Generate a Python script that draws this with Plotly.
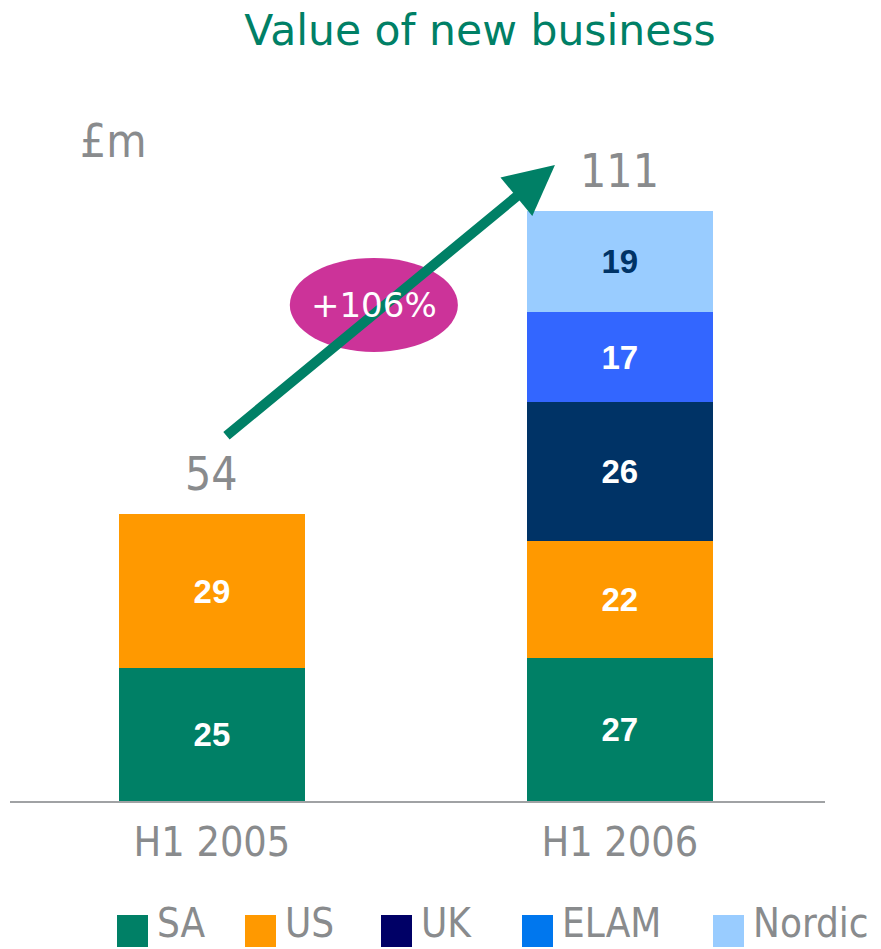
import plotly.graph_objects as go

categories = ["H1 2005", "H1 2006"]
series_names = ["SA", "US", "UK", "ELAM", "Nordic"]
sa = [25, 27]
us = [29, 22]
uk = [0, 26]
elam = [0, 17]
nordic = [0, 19]
series_values = [sa, us, uk, elam, nordic]
bar_colors = ["#008066", "#FF9900", "#003366", "#3366FF", "#99CCFF"]
legend_colors = ["#008066", "#FF9900", "#000066", "#0077EE", "#99CCFF"]
label_colors = ["white", "white", "white", "white", "#003366"]
growth_label = "+106%"
unit_label = "£m"
title_text = "Value of new business"

GRAY = "#898B8D"
NARROW = "DejaVu Sans Condensed, Liberation Sans Narrow, sans-serif"
TAHOMA = "DejaVu Sans, Tahoma, Verdana, sans-serif"

W, H = 881, 949
ML, MR, MT, MB = 10, 56, 57, 148
PW, PH = W - ML - MR, H - MT - MB


def px(x):
    return (x - ML) / PW


def py(y):
    return (H - MB - y) / PH


fig = go.Figure()
xs = [0, 1]
for name, vals, col, lc in zip(series_names, series_values, bar_colors, label_colors):
    fig.add_trace(go.Bar(
        x=xs, y=[v if v else None for v in vals], name=name,
        marker=dict(color=col, line=dict(width=0)),
        width=0.456,
        text=[str(v) if v else "" for v in vals],
        textposition="inside", insidetextanchor="middle", textangle=0,
        constraintext="none",
        textfont=dict(family="Liberation Sans, Arial, sans-serif", size=33, color=lc, weight="bold"),
        showlegend=False, hoverinfo="skip",
    ))

totals = [sum(v[i] for v in series_values) for i in range(len(categories))]
for i, t in enumerate(totals):
    fig.add_annotation(x=xs[i], y=t, yanchor="bottom", yshift=11, text=str(t), showarrow=False,
                       font=dict(family=NARROW, size=46, color=GRAY))

# growth arrow
fig.add_annotation(x=0.841, y=119.7, ax=0.032, ay=68.5, xref="x", yref="y", axref="x", ayref="y",
                   text="", showarrow=True, arrowhead=2, arrowsize=1.0, arrowwidth=10,
                   arrowcolor="#008066")
fig.add_shape(type="circle", xref="x", yref="y", x0=0.191, x1=0.603, y0=84.5, y1=102.2,
              fillcolor="#CC3399", line=dict(width=0))
fig.add_annotation(x=0.397, y=93.3, text=growth_label, showarrow=False,
                   font=dict(family=TAHOMA, size=34, color="white"))

# unit label
fig.add_annotation(x=px(113), y=py(141), xref="paper", yref="paper", text=unit_label,
                   xanchor="center", yanchor="middle",
                   showarrow=False, font=dict(family=NARROW, size=46, color=GRAY))

# custom legend
leg_sq_x = [117, 245, 381, 522, 713]
for name, col, sx in zip(series_names, legend_colors, leg_sq_x):
    fig.add_shape(type="rect", xref="paper", yref="paper",
                  x0=px(sx), x1=px(sx + 31), y0=py(947), y1=py(915),
                  fillcolor=col, line=dict(width=0))
    fig.add_annotation(x=px(sx + 38), y=py(923), xref="paper", yref="paper",
                       xanchor="left", yanchor="middle", text=name, showarrow=False,
                       font=dict(family=NARROW, size=40, color=GRAY))

fig.update_layout(
    barmode="stack",
    width=W, height=H,
    margin=dict(l=ML, r=MR, t=MT, b=MB),
    paper_bgcolor="white", plot_bgcolor="white",
    title=dict(text=title_text, x=480 / W, xanchor="center", xref="container",
               y=1 - 30 / H, yanchor="middle", yref="container",
               font=dict(family=TAHOMA, size=42.5, color="#008066")),
    xaxis=dict(range=[-0.495, 1.503], tickvals=xs, ticktext=categories, showline=True,
               linecolor="#A0A2A4", linewidth=2, showgrid=False, zeroline=False, ticks="",
               ticklabelstandoff=4,
               tickfont=dict(family=NARROW, size=41, color=GRAY)),
    yaxis=dict(range=[0, 140], visible=False),
    showlegend=False,
)

fig.write_html("out.html", config={"displayModeBar": False},
               post_script="document.body.style.margin='0';document.body.style.overflow='hidden';")
